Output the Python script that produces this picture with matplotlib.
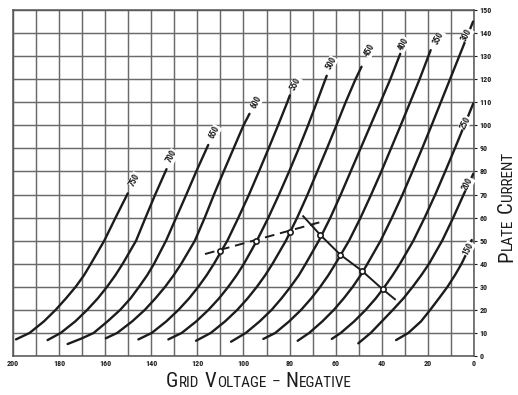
import matplotlib
matplotlib.use("Agg")
import matplotlib.pyplot as plt
from matplotlib import font_manager
import numpy as np

# ---------------- data ----------------
x_tick_values = [200, 180, 160, 140, 120, 100, 80, 60, 40, 20, 0]
y_tick_values = [0, 10, 20, 30, 40, 50, 60, 70, 80, 90, 100, 110, 120, 130, 140, 150]

plate_voltages = [750, 700, 650, 600, 550, 500, 450, 400, 350, 300, 250, 200, 150]

i_750 = [7.2, 10, 15, 20, 25, 30, 35, 40, 50, 60, 70.5]
v_750 = [198.7, 192.8, 186.6, 181.5, 177.0, 172.8, 169.2, 166.2, 160.4, 155.5, 150.2]

i_700 = [6.9, 10, 15, 20, 25, 30, 35, 40, 50, 60, 70, 81]
v_700 = [185.0, 179.3, 173.0, 167.8, 163.2, 159.2, 155.6, 152.4, 146.6, 142.5, 138.3, 133.4]

i_650 = [5.2, 7.7, 10, 15, 20, 25, 30, 35, 40, 50, 60, 70, 80, 91.5]
v_650 = [176.3, 170.0, 165.0, 159.0, 153.5, 149.0, 145.3, 141.8, 138.8, 133.6, 129.2, 124.8, 120.5, 115.3]

i_600 = [7.7, 10, 15, 20, 25, 30, 35, 40, 50, 60, 70, 80, 90, 100, 105]
v_600 = [159.7, 154.8, 148.3, 142.8, 138.2, 134.0, 130.3, 127.0, 121.1, 116.8, 112.8, 108.6, 104.3, 100.0, 97.4]

i_550 = [7.2, 10, 15, 20, 25, 30, 35, 40, 50, 60, 70, 80, 90, 100, 110, 113]
v_550 = [145.6, 139.8, 133.5, 128.2, 123.6, 119.6, 116.0, 112.8, 107.0, 102.2, 97.6, 93.3, 89.1, 85.0, 81.0, 79.9]

i_500 = [7.2, 10, 15, 20, 25, 30, 35, 40, 50, 60, 70, 80, 90, 100, 110, 121.5]
v_500 = [132.6, 126.8, 120.5, 115.2, 110.6, 106.6, 103.0, 99.8, 94.2, 89.2, 84.6, 80.2, 76.0, 72.0, 68.2, 63.9]

i_450 = [6.6, 10, 15, 20, 25, 30, 35, 40, 50, 60, 70, 80, 90, 100, 110, 120, 125.4]
v_450 = [120.6, 114.2, 108.0, 102.7, 98.2, 94.2, 90.6, 87.4, 81.6, 76.7, 72.2, 68.0, 63.8, 59.7, 55.7, 51.4, 48.8]

i_400 = [6.2, 10, 15, 20, 25, 30, 35, 40, 50, 60, 70, 80, 90, 100, 110, 120, 131]
v_400 = [105.4, 99.0, 93.0, 87.8, 83.5, 79.6, 76.0, 73.0, 67.3, 62.3, 57.8, 53.5, 49.2, 44.9, 40.6, 36.3, 32.0]

i_350 = [7.4, 10, 15, 20, 25, 30, 35, 40, 50, 60, 70, 80, 90, 100, 110, 120, 132.6]
v_350 = [91.4, 86.2, 80.2, 75.0, 70.6, 66.7, 63.2, 60.1, 54.2, 49.2, 44.6, 40.2, 36.0, 31.8, 27.7, 23.6, 18.8]

i_300 = [6.6, 10, 15, 20, 25, 30, 35, 40, 50, 60, 70, 80, 90, 100, 110, 120, 130, 140, 145]
v_300 = [76.5, 71.5, 65.8, 60.8, 56.5, 52.6, 49.2, 46.2, 40.5, 35.6, 31.0, 26.7, 22.5, 18.4, 14.4, 10.4, 6.4, 2.4, 0.4]

i_250 = [7.4, 10, 15, 20, 25, 30, 35, 40, 50, 60, 70, 80, 90, 100, 109.5]
v_250 = [61.7, 57.8, 52.0, 47.0, 42.6, 38.8, 35.3, 32.1, 26.3, 21.4, 16.8, 12.5, 8.3, 4.2, 0.3]

i_200 = [5.5, 10, 15, 20, 25, 30, 35, 40, 50, 60, 70, 79]
v_200 = [50.2, 44.8, 40.0, 35.2, 30.6, 26.6, 22.9, 19.5, 13.8, 9.0, 4.5, 0.3]

i_150 = [6.9, 10, 15, 20, 25, 30, 35, 40, 45, 50.3]
v_150 = [33.8, 28.5, 23.0, 19.0, 15.2, 11.5, 8.3, 5.4, 3.0, 1.0]

# dashed line with its three marked points
dash_v = [116.7, 66.1]
dash_i = [44.2, 58.2]
dash_mark_v = [110.3, 94.5, 79.8]
dash_mark_i = [45.5, 49.8, 53.9]

# solid load line with its four marked points
load_v = [74.1, 66.6, 58.1, 48.7, 39.6, 34.3]
load_i = [60.6, 52.4, 44.0, 37.0, 28.9, 24.6]
load_mark_v = [66.6, 58.1, 48.7, 39.6]
load_mark_i = [52.4, 44.0, 37.0, 28.9]

curves = {
    750: (v_750, i_750), 700: (v_700, i_700), 650: (v_650, i_650),
    600: (v_600, i_600), 550: (v_550, i_550), 500: (v_500, i_500),
    450: (v_450, i_450), 400: (v_400, i_400), 350: (v_350, i_350),
    300: (v_300, i_300), 250: (v_250, i_250), 200: (v_200, i_200),
    150: (v_150, i_150),
}

# ---------------- layout / style ----------------
W, H = 518, 395
avail = {f.name for f in font_manager.fontManager.ttflist}
narrow = next((f for f in ["Liberation Sans Narrow", "DejaVu Sans Condensed",
                           "Roboto Condensed", "Open Sans Condensed"] if f in avail),
              "Liberation Sans")

label_pos = {750: (147.3, 76.5), 700: (131.0, 86.5), 650: (112.5, 97.0),
             600: (94.3, 110.0), 550: (77.5, 118.0), 500: (62.0, 126.8),
             450: (45.3, 132.5), 400: (30.5, 135.3), 350: (15.3, 138.0),
             300: (3.0, 139.0), 250: (3.8, 101.0), 200: (2.6, 74.5),
             150: (2.4, 46.5)}

ink = "#1c1c1c"
grid_col = "#6a6a6a"

fig = plt.figure(figsize=(W / 100, H / 100), dpi=100)
fig.patch.set_facecolor("white")
ax = fig.add_axes([13 / W, 39 / H, 461 / W, 346 / H])
ax.set_xlim(200, 0)
ax.set_ylim(0, 150)

ax.set_xticks(np.arange(0, 201, 10))
ax.set_xticklabels([str(v) if v in x_tick_values else "" for v in np.arange(0, 201, 10)])
ax.set_yticks(y_tick_values)
ax.set_yticklabels([str(v) for v in y_tick_values])
ax.yaxis.tick_right()
ax.grid(True, color=grid_col, lw=1.05)
ax.set_axisbelow(True)
for s in ax.spines.values():
    s.set_color("#555555")
    s.set_linewidth(1.1)
ax.tick_params(axis="x", length=0, pad=3, labelsize=5.8, colors=ink)
ax.tick_params(axis="y", length=2.5, width=0.8, pad=1.5, labelsize=5.8, colors=ink)
for lab in ax.get_xticklabels() + ax.get_yticklabels():
    lab.set_fontfamily(narrow)
    lab.set_fontweight("bold")

for vp in plate_voltages:
    v, i = curves[vp]
    ax.plot(v, i, color=ink, lw=1.7, solid_capstyle="round", zorder=3)
    lx, ly = label_pos[vp]
    ax.text(lx, ly, str(vp), rotation=62, ha="center", va="center",
            fontsize=6.2, fontweight="bold", family=narrow, color=ink, zorder=4,
            bbox=dict(boxstyle="square,pad=0.05", fc="white", ec="none"))

ax.plot(dash_v, dash_i, color=ink, lw=1.4, dashes=(5, 3), zorder=3)
ax.plot(dash_mark_v, dash_mark_i, "o", ms=3.8, mfc="white", mec=ink, mew=1.2, zorder=5)
ax.plot(load_v, load_i, color=ink, lw=1.4, zorder=3)
ax.plot(load_mark_v, load_mark_i, "o", ms=3.8, mfc="white", mec=ink, mew=1.2, zorder=5)

# ---------------- small-caps axis titles ----------------
renderer = fig.canvas.get_renderer()


def small_caps(parts, x0, y0, rotation):
    pos = x0 if rotation == 0 else y0
    for s, size in parts:
        if s == " ":
            pos += size * 0.32 * 100 / 72
            continue
        if rotation == 0:
            xy = (pos / W, y0 / H)
        else:
            xy = (x0 / W, pos / H)
        t = fig.text(xy[0], xy[1], s, fontsize=size, family=narrow, color=ink,
                     rotation=rotation, rotation_mode="anchor",
                     ha="left", va="baseline")
        bb = t.get_window_extent(renderer)
        pos += (bb.width if rotation == 0 else bb.height) + 0.5


big, small = 15, 11
small_caps([("G", big), ("RID", small), (" ", small), ("V", big), ("OLTAGE", small),
            (" ", small), ("\u2013", small), (" ", small), ("N", big), ("EGATIVE", small)],
           166, 8, 0)
small_caps([("P", big), ("LATE", small), (" ", small), ("C", big), ("URRENT", small)],
           512, 133, 90)

fig.savefig("out.png", dpi=100, facecolor="white")
